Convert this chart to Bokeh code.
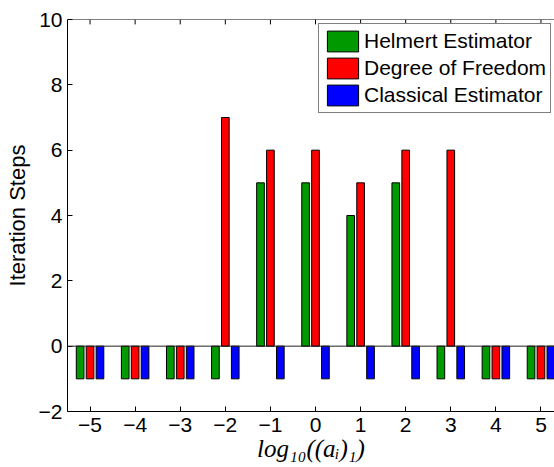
from bokeh.plotting import figure
from bokeh.models import (FixedTicker, Range1d, Legend, LegendItem,
                          Span, ColumnDataSource)
from bokeh.embed import file_html
from bokeh.resources import INLINE

# log10((a_i)_1) positions and the iteration steps of each estimator
x_vals = [-5, -4, -3, -2, -1, 0, 1, 2, 3, 4, 5]
helmert = [-1, -1, -1, -1, 5, 5, 4, 5, -1, -1, -1]
dof = [-1, -1, -1, 7, 6, 6, 5, 6, 6, -1, -1]
classical = [-1, -1, -1, -1, -1, -1, -1, -1, -1, -1, -1]

series_names = ["Helmert Estimator", "Degree of Freedom", "Classical Estimator"]
series_colors = ["#009900", "#ff0000", "#0000ff"]
group_offsets = [-0.22, 0.0, 0.22]
bar_width = 0.17

x_ticks = [-5, -4, -3, -2, -1, 0, 1, 2, 3, 4, 5]
x_tick_labels = ["\u22125", "\u22124", "\u22123", "\u22122", "\u22121", "0", "1", "2", "3", "4", "5"]
y_ticks = [-2, 0, 2, 4, 6, 8, 10]
y_tick_labels = ["\u22122", "0", "2", "4", "6", "8", "10"]

FONT = "Liberation Sans"
FS = "21px"

Y_MIN, Y_MAX = -2, 10

p = figure(width=554, height=467, output_backend="svg", toolbar_location=None,
           x_range=Range1d(-5.5, 5.3), y_range=Range1d(Y_MIN, Y_MAX),
           min_border_left=67, min_border_right=0, min_border_top=19,
           min_border_bottom=56)
p.outline_line_color = None
p.grid.visible = False
p.background_fill_color = "white"
p.border_fill_color = "white"

renderers = []
for vals, color, off in zip([helmert, dof, classical], series_colors, group_offsets):
    src = ColumnDataSource(dict(x=[v + off for v in x_vals], top=vals,
                                bottom=[0] * len(vals)))
    r = p.vbar(x="x", top="top", bottom="bottom", width=bar_width, source=src,
               fill_color=color, line_color="black", line_width=1)
    renderers.append(r)

# bar baseline
p.add_layout(Span(location=0, dimension="width", line_color="#222222",
                  line_width=1))

# top edge of the box with inward ticks
p.add_layout(Span(location=Y_MAX, dimension="width", line_color="black",
                  line_width=1))
tick_len = 0.15
p.segment(x0=x_ticks, x1=x_ticks, y0=[Y_MAX] * len(x_ticks),
          y1=[Y_MAX - tick_len] * len(x_ticks), line_color="black", line_width=1)

def style_axis(ax, ticks, labels):
    ax.ticker = FixedTicker(ticks=ticks)
    ax.major_label_overrides = {t: l for t, l in zip(ticks, labels)}
    ax.major_tick_in = 5
    ax.major_tick_out = 0
    ax.minor_tick_in = 0
    ax.minor_tick_out = 0
    ax.axis_line_color = "black"
    ax.major_tick_line_color = "black"
    ax.major_label_text_font = FONT
    ax.major_label_text_font_size = FS
    ax.major_label_text_color = "black"
    ax.major_label_standoff = 6

style_axis(p.xaxis[0], x_ticks, x_tick_labels)
style_axis(p.yaxis[0], y_ticks, y_tick_labels)
p.yaxis.major_label_standoff = 5

p.yaxis.axis_label = "Iteration Steps"
p.yaxis.axis_label_text_font = FONT
p.yaxis.axis_label_text_font_size = "22px"
p.yaxis.axis_label_text_font_style = "normal"
p.yaxis.axis_label_text_color = "black"
p.yaxis.axis_label_standoff = 6

p.xaxis.axis_label = "log\u2081\u2080((a\u1d62)\u2081)"
p.xaxis.axis_label_text_font = "Liberation Serif"
p.xaxis.axis_label_text_font_size = "25px"
p.xaxis.axis_label_text_font_style = "italic"
p.xaxis.axis_label_text_color = "black"
p.xaxis.axis_label_standoff = 0

legend = Legend(items=[LegendItem(label=n, renderers=[r])
                       for n, r in zip(series_names, renderers)],
                location=(251, 298))
legend.border_line_color = "black"
legend.border_line_width = 1
legend.background_fill_color = "white"
legend.background_fill_alpha = 1
legend.padding = 4
legend.spacing = 1
legend.margin = 0
legend.glyph_width = 39
legend.glyph_height = 26
legend.label_height = 26
legend.label_standoff = 2
legend.label_text_font = FONT
legend.label_text_font_size = "21px"
legend.label_text_color = "black"
p.add_layout(legend)

open("out.html", "w").write(file_html(p, INLINE))
